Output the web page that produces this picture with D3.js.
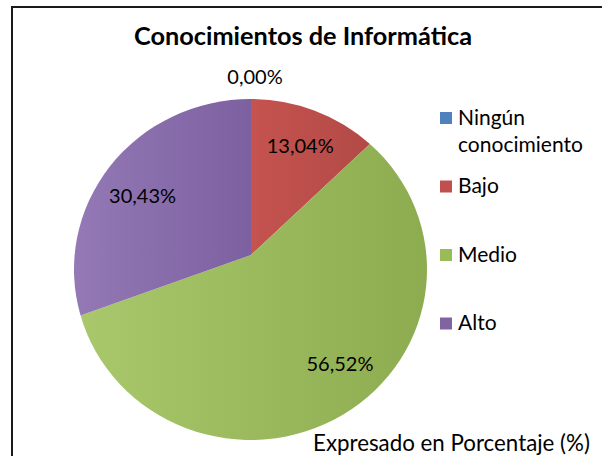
<!DOCTYPE html>
<html>
<head>
<meta charset="utf-8">
<script src="https://cdn.jsdelivr.net/npm/d3@7"></script>
<style>
  html, body { margin: 0; padding: 0; background: #ffffff; }
  svg { display: block; }
  text { font-family: Lato, "Open Sans", "Noto Sans", sans-serif; fill: #000; }
</style>
</head>
<body>
<svg id="chart" width="602" height="456"></svg>
<script>
// ---- data ----
const title = "Conocimientos de Informática";
const categories = ["Ningún conocimiento", "Bajo", "Medio", "Alto"];
const values = [0.00, 13.04, 56.52, 30.43];
const footer = "Expresado en Porcentaje (%)";

// ---- styles / layout ----
const solid = ["#4f81bd", "#c0504d", "#9bbb59", "#8064a2"];
const light = ["#5a8cc8", "#c5534f", "#a9c86b", "#9479b6"];
const dark  = ["#4573ad", "#b24a46", "#8dab4f", "#7c60a0"];
const W = 602, H = 456;
const V = [251, 255];            // pie vertex
const C = [250.5, 269.5];        // outline centre
const RX = 176.5, RY = 170.5;    // outline radii
const labelFrac = 0.72;
const labelNudge = [[4, 0], [4, -5], [20, -4], [-11, 10]];

const svg = d3.select("#chart");
const fmt = d3.formatLocale({decimal: ",", thousands: ".", grouping: [3], currency: ["", "€"]}).format(".2f");

// frame
svg.append("rect").attr("width", W).attr("height", H).attr("fill", "#fff");
svg.append("rect").attr("x", 12).attr("y", 7).attr("width", 640).attr("height", 500)
  .attr("fill", "#fff").attr("stroke", "#1a1a1a").attr("stroke-width", 2);

function fit(sel, target) {
  const w = sel.node().getComputedTextLength();
  const fs = parseFloat(sel.attr("font-size"));
  sel.attr("font-size", (fs * target / w).toFixed(2));
  return sel;
}

// title
const t = svg.append("text").attr("x", 303).attr("y", 45)
  .attr("text-anchor", "middle").attr("font-weight", "bold").attr("font-size", 24)
  .text(title);
fit(t, 338);

// gradients
const defs = svg.append("defs");
categories.forEach((c, i) => {
  const g = defs.append("linearGradient").attr("id", "g" + i)
    .attr("x1", 0).attr("y1", 0).attr("x2", 1).attr("y2", 0);
  g.append("stop").attr("offset", "0%").attr("stop-color", light[i]);
  g.append("stop").attr("offset", "100%").attr("stop-color", dark[i]);
});

// pie geometry
const arcs = d3.pie().sort(null).value(d => d)(values);
function rayLen(theta) {
  const dx = Math.sin(theta), dy = -Math.cos(theta);
  const px = (V[0] - C[0]) / RX, py = (V[1] - C[1]) / RY;
  const qx = dx / RX, qy = dy / RY;
  const A = qx * qx + qy * qy, B = 2 * (px * qx + py * qy), Cc = px * px + py * py - 1;
  return (-B + Math.sqrt(B * B - 4 * A * Cc)) / (2 * A);
}
function rim(theta, extra) {
  const L = rayLen(theta) + (extra || 0);
  return [V[0] + L * Math.sin(theta), V[1] - L * Math.cos(theta)];
}
function slicePath(d) {
  const span = d.endAngle - d.startAngle;
  if (span <= 0) return "";
  const p0 = rim(d.startAngle), p1 = rim(d.endAngle);
  const large = span > Math.PI ? 1 : 0;
  return `M${V[0]},${V[1]}L${p0[0]},${p0[1]}A${RX},${RY} 0 ${large} 1 ${p1[0]},${p1[1]}Z`;
}

svg.append("g").selectAll("path").data(arcs).join("path")
  .attr("d", slicePath)
  .attr("fill", (d, i) => `url(#g${i})`);

// data labels
const lab = svg.append("g").selectAll("text").data(arcs).join("text")
  .attr("text-anchor", "middle").attr("dy", "0.35em").attr("font-size", 20)
  .attr("transform", (d, i) => {
    const mid = (d.startAngle + d.endAngle) / 2;
    let p;
    if (d.endAngle - d.startAngle <= 0) {
      p = rim(mid, 22);
    } else {
      const r = rim(mid);
      p = [V[0] + labelFrac * (r[0] - V[0]), V[1] + labelFrac * (r[1] - V[1])];
    }
    return `translate(${p[0] + labelNudge[i][0]},${p[1] + labelNudge[i][1]})`;
  })
  .text(d => fmt(d.data) + "%");
{
  const n = lab.filter((d, i) => i === 1);
  fit(n, 67);
  lab.attr("font-size", n.attr("font-size"));
}

// legend
const legY = d3.scalePoint().domain(categories).range([118, 323.5]);
const leg = svg.append("g");
const items = leg.selectAll("g").data(categories).join("g")
  .attr("transform", d => `translate(440,${legY(d)})`);
items.append("rect").attr("x", 0).attr("y", -6).attr("width", 12).attr("height", 12)
  .attr("fill", (d, i) => solid[i]);
const lt = items.append("text").attr("x", 18).attr("y", 6.5).attr("font-size", 20);
lt.each(function(d) {
  const words = d.split(" ");
  d3.select(this).selectAll("tspan").data(words).join("tspan")
    .attr("x", 18).attr("dy", (w, j) => j === 0 ? 0 : 27.5).text(w => w);
});
{
  const probe = svg.append("text").attr("font-size", 20).text("conocimiento");
  const w = probe.node().getComputedTextLength();
  probe.remove();
  lt.attr("font-size", (20 * 125 / w).toFixed(2));
}

// footer
const f = svg.append("text").attr("x", 313).attr("y", 451).attr("font-size", 20).text(footer);
fit(f, 277);
</script>
</body>
</html>
